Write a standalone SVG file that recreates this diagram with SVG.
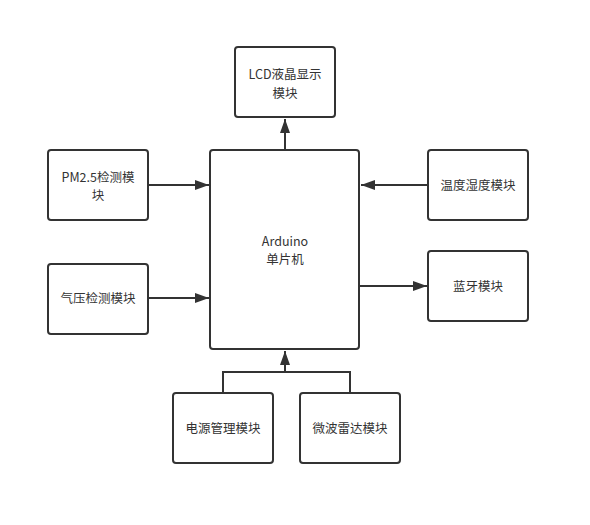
<svg xmlns="http://www.w3.org/2000/svg" width="590" height="525" viewBox="0 0 590 525">
<defs>
<style>
.box{fill:#fff;stroke:#333;stroke-width:2}
.t{font-family:"Noto Sans CJK SC","Noto Sans",sans-serif;font-size:12.5px;fill:#333;text-anchor:middle}
.ln{fill:none;stroke:#333;stroke-width:2}
</style>
<marker id="ah" markerUnits="userSpaceOnUse" markerWidth="14" markerHeight="12" viewBox="0 0 14 12" refX="14" refY="6" orient="auto">
<path d="M0,1 L14,6 L0,11 Z" fill="#333"/>
</marker>
</defs>
<rect width="590" height="525" fill="#fff"/>
<g id="connectors">
<path class="ln" d="M285,150 L285,119" marker-end="url(#ah)"/>
<path class="ln" d="M148,185 L209,185" marker-end="url(#ah)"/>
<path class="ln" d="M148,298 L209,298" marker-end="url(#ah)"/>
<path class="ln" d="M428,185 L361,185" marker-end="url(#ah)"/>
<path class="ln" d="M360,286 L427,286" marker-end="url(#ah)"/>
<path class="ln" d="M223,393 L223,372 L350,372 L350,393"/>
<path class="ln" d="M285,372 L285,351" marker-end="url(#ah)"/>
</g>
<g id="lcd">
<rect class="box" x="235" y="47" width="100" height="70" rx="3"/>
<text class="t" x="285" y="79"><tspan x="285">LCD液晶显示</tspan><tspan x="285" dy="18.5">模块</tspan></text>
</g>
<g id="arduino">
<rect class="box" x="210" y="150" width="149" height="199" rx="3"/>
<text class="t" x="285" y="245.5"><tspan x="285">Arduino</tspan><tspan x="285" dy="18.5">单片机</tspan></text>
</g>
<g id="pm25">
<rect class="box" x="48" y="150" width="100" height="70" rx="3"/>
<text class="t" x="98" y="181.5"><tspan x="98">PM2.5检测模</tspan><tspan x="98" dy="18.5">块</tspan></text>
</g>
<g id="pressure">
<rect class="box" x="48" y="264" width="100" height="70" rx="3"/>
<text class="t" x="98" y="303">气压检测模块</text>
</g>
<g id="temp">
<rect class="box" x="428" y="150" width="100" height="70" rx="3"/>
<text class="t" x="478" y="190">温度湿度模块</text>
</g>
<g id="bluetooth">
<rect class="box" x="428" y="251" width="100" height="70" rx="3"/>
<text class="t" x="478" y="291">蓝牙模块</text>
</g>
<g id="power">
<rect class="box" x="173" y="393" width="100" height="70" rx="3"/>
<text class="t" x="223" y="433">电源管理模块</text>
</g>
<g id="radar">
<rect class="box" x="300" y="393" width="100" height="70" rx="3"/>
<text class="t" x="350" y="433">微波雷达模块</text>
</g>
</svg>
